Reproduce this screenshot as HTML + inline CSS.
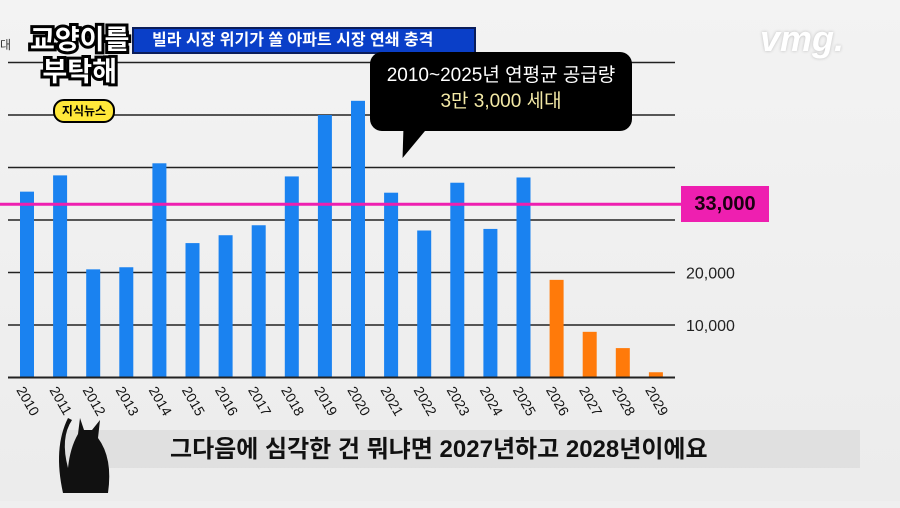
<!DOCTYPE html>
<html><head><meta charset="utf-8">
<style>
body{margin:0;width:900px;height:501px;overflow:hidden;background:#efefef;font-family:"Liberation Sans","Noto Sans CJK KR",sans-serif;}
#wrap{position:relative;width:900px;height:501px;background:linear-gradient(180deg,#f3f3f3,#ececec);}
.abs{position:absolute;}
</style></head><body>
<div id="wrap">
<svg id="chart" class="abs" style="left:0;top:0" width="900" height="501"></svg>
<div class="abs" style="left:0;top:36px;font-size:12px;color:#333">대</div>
<div class="abs" style="left:132px;top:27px;width:322px;height:23px;background:#0a3fc8;border:2px solid #0a1d5a;color:#fff;font-size:16px;font-weight:bold;line-height:23px;padding-left:18px">빌라 시장 위기가 쏠 아파트 시장 연쇄 충격</div>
<div class="abs" style="left:30px;top:24px;color:#fff;font-size:27px;font-weight:bold;line-height:32px;text-align:center;-webkit-text-stroke:6px #000;paint-order:stroke fill">교양이를<br>부탁해</div>
<div class="abs" style="left:53px;top:99px;width:58px;height:20px;background:#ffe83a;border:2px solid #000;border-radius:11px;font-size:12px;font-weight:bold;text-align:center;line-height:20px">지식뉴스</div>
<div class="abs" style="left:760px;top:18px;color:#fff;font-size:36px;font-weight:bold;font-style:italic;text-shadow:0 0 3px #bbb">vmg.</div>
<div class="abs" style="left:370px;top:52px;width:262px;height:79px;background:#000;border-radius:12px;color:#fff;text-align:center;font-size:19px;line-height:26px;padding-top:11px;box-sizing:border-box">2010~2025년 연평균 공급량<br><span style="color:#f3e9a6">3만 3,000 세대</span></div>
<div class="abs" style="left:398px;top:128px;width:0;height:0;border-left:10px solid transparent;border-right:14px solid transparent;border-top:30px solid #000;transform:skewX(-20deg)"></div>
<div class="abs" style="left:681px;top:186px;width:88px;height:36px;background:#ee1fb0;color:#1a0010;font-size:20px;font-weight:bold;text-align:center;line-height:36px">33,000</div>
<div class="abs" style="left:60px;top:430px;width:800px;height:38px;background:rgba(222,222,222,0.9)"></div>
<div class="abs" style="left:170px;top:433px;font-size:24px;font-weight:bold;color:#111;line-height:34px">그다음에 심각한 건 뭐냐면 2027년하고 2028년이에요</div>
<svg class="abs" style="left:48px;top:408px" width="70" height="100"><path d="M20 10 Q5 40 15 85 L60 85 Q65 50 50 30 L52 12 L44 22 L36 22 L32 10 L30 26 Q22 40 20 60 Q12 30 24 12Z" fill="#111"/></svg>
</div>
<script>
const years=["2010","2011","2012","2013","2014","2015","2016","2017","2018","2019","2020","2021","2022","2023","2024","2025","2026","2027","2028","2029"];
const supply=[35400,38500,20600,21000,40800,25600,27100,29000,38300,50000,52700,35200,28000,37100,28300,38100,18600,8700,5600,1000];
const projected=[false,false,false,false,false,false,false,false,false,false,false,false,false,false,false,false,true,true,true,true];
const gridTicks=[0,10000,20000,30000,40000,50000,60000];
const tickLabels=["","10,000","20,000","","","",""];
const averageValue=33000;
const NS="http://www.w3.org/2000/svg";
const svg=document.getElementById('chart');
const y=v=>377.5-v*0.00525;
const x=i=>27+i*33.1;
function mk(t,a){const e=document.createElementNS(NS,t);for(const k in a)e.setAttribute(k,a[k]);svg.appendChild(e);return e;}
gridTicks.forEach((t,i)=>{
 const l=mk('line',{x1:8,x2:675,y1:y(t),y2:y(t),stroke:'#222','stroke-width':i===0?2:1.6});
 
 
 if(tickLabels[i]){const tx=mk('text',{x:686,y:y(t)+6,'font-size':16,fill:'#222','font-family':'Liberation Sans'});tx.textContent=tickLabels[i];
 
 }
});
supply.forEach((v,i)=>{
 const r=mk('rect',{x:x(i)-7,y:y(v),width:14,height:y(0)-y(v)-1,fill:projected[i]?'#ff7a0a':'#1a82f0'});
 
 
 const t=mk('text',{x:0,y:0,'font-size':14,fill:'#111','font-family':'Liberation Sans',transform:`translate(${x(i)-11},${390}) rotate(60)`});
 t.textContent=years[i];
 
 
});
const al=mk('line',{x1:0,x2:682,y1:y(averageValue),y2:y(averageValue),stroke:'#ee1fb0','stroke-width':3});


</script>
</body></html>
